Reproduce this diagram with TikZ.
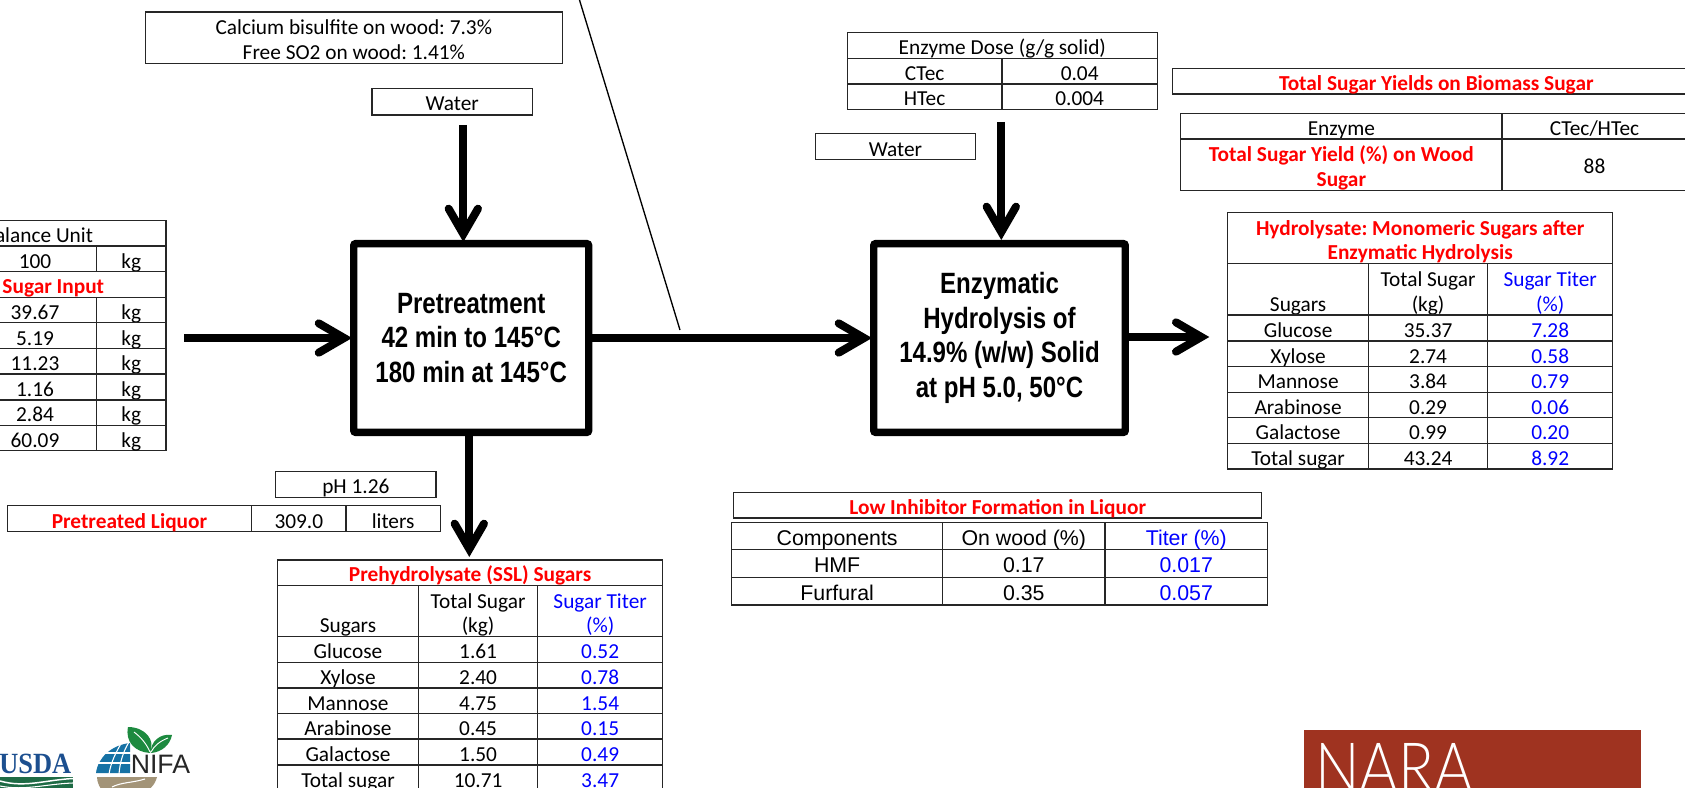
\documentclass[tikz,border=0pt]{standalone}
\usepackage{fontspec}
\setmainfont{Carlito}
\newfontfamily\arialfont{Liberation Sans}
\newfontfamily\narrowfont[FakeStretch=0.82]{Liberation Sans}
\newfontfamily\narafont[FakeStretch=0.85]{Lato Light}
\newfontfamily\usdafont[FakeStretch=0.9]{Liberation Serif}
\usepackage{tikz}
\usetikzlibrary{arrows.meta}
\definecolor{narared}{HTML}{9F3320}
\definecolor{usdablue}{HTML}{1C4F8F}
\definecolor{usdagreen}{HTML}{1E6B45}
\definecolor{nifagreen}{HTML}{1D8A3F}
\definecolor{nifasoil}{HTML}{A39478}
\newcommand{\cellfont}{\fontsize{16}{18.5}\selectfont\frenchspacing}
\newcommand{\ctop}{\rule{0pt}{18.5pt}}
\newcommand{\cbot}{\rule[-4.5pt]{0pt}{4.5pt}}
\tikzset{
  cell/.style = {draw=black!85, line width=1pt, inner xsep=0pt, inner ysep=-3pt, align=center,
    font=\cellfont},
  redcell/.style = {cell, text=red, font=\cellfont\bfseries},
  bluecell/.style = {cell, text=blue},
  arialcell/.style = {cell, font=\cellfont\arialfont},
  arialblue/.style = {arialcell, text=blue},
  stepbox/.style = {draw=black, line width=5.5pt, rounded corners=1.5pt, inner sep=0pt,
    align=center, font=\fontsize{22}{25.8}\selectfont\narrowfont\bfseries},
  flow/.style = {line width=6pt, shorten >=-1.5pt,
    -{Straight Barb[length=19pt,width=22pt,line cap=round,line join=miter]}}
}
% one table cell: [style]{name}{x0}{y0}{x1}{y1}{text}, reference pixels
\newcommand{\tcell}[7][cell]{%
  \pgfmathsetmacro{\cellw}{(#5-#3)*0.75}\pgfmathsetmacro{\cellh}{(#6-#4)*0.75}%
  \node[#1, minimum width=\cellw pt, minimum height=\cellh pt] (#2)
    at ({(#3+#5)/2},{(#4+#6)/2}) {\ctop #7\cbot};}
\begin{document}
\begin{tikzpicture}[x=0.75pt,y=-0.75pt]
\useasboundingbox (0,0) rectangle (1685,788);
\clip (0,0) rectangle (1685,788);

% process boxes
\node [stepbox, minimum width=176.2pt, minimum height=141.6pt] (pre) at (471.2,338)
  {Pretreatment\\42 min to 145\textdegree C\\180 min at 145\textdegree C};
\node [stepbox, minimum width=188.7pt, minimum height=141.6pt] (enz) at (999.5,338)
  {Enzymatic\\Hydrolysis of\\14.9\% (w/w) Solid\\at pH 5.0, 50\textdegree C};

% free ends
\coordinate (feedstart) at (184,338);
\coordinate (watera) at (463.3,125);
\coordinate (waterahit) at (463.3,240);
\coordinate (waterb) at (1001.3,122);
\coordinate (waterbhit) at (1001.3,238);
\coordinate (prestart) at (469.3,436);
\coordinate (pretip) at (469.3,555);
\coordinate (enzstart) at (1129,337);
\coordinate (enztip) at (1207.3,337);
\coordinate (slanttop) at (579.5,0);
\coordinate (slantend) at (680,330);

\draw [flow] (feedstart) -- (pre.west);
\draw [flow] (pre.east) -- (enz.west);
\draw [flow] (watera) -- (waterahit);
\draw [flow] (waterb) -- (waterbhit);
\draw [flow] (prestart) -- (pretip);
\draw [flow] (enzstart) -- (enztip);
\draw [line width=1pt] (slanttop) -- (slantend);

% top notes
\tcell{note}{145.3}{12}{562.4}{63.3}{Calcium bisulfite on wood: 7.3\%\\Free SO2 on wood: 1.41\%}
\tcell{wata}{371.9}{88.3}{532.6}{115}{Water}
\tcell{watb}{815.3}{133.7}{975.7}{159.7}{Water}

% enzyme dose
\tcell{dose}{847.3}{32.3}{1157.3}{58.3}{Enzyme Dose (g/g solid)}
\tcell{ctec}{847.3}{58.3}{1002}{84}{CTec}
\tcell{ctecv}{1002}{58.3}{1157.3}{84}{0.04}
\tcell{htec}{847.3}{84}{1002}{109.3}{HTec}
\tcell{htecv}{1002}{84}{1157.3}{109.3}{0.004}

% yields
\tcell[redcell]{yieldhead}{1172.5}{68.3}{1700}{94}{Total Sugar Yields on Biomass Sugar}
\tcell{enzyme}{1180.7}{113.3}{1502}{139}{Enzyme}
\tcell{enzymev}{1502}{113.3}{1687}{139}{CTec/HTec}
\tcell[redcell]{yield}{1180.7}{139}{1502}{190.3}{Total Sugar Yield (\%) on Wood\\Sugar}
\tcell{yieldv}{1502}{139}{1687}{190.3}{88}

% input table
\tcell{unit}{-78}{220.7}{166}{246}{alance Unit}
\tcell{basis}{-26.7}{246}{96.7}{271.7}{100}
\tcell{basisu}{96.7}{246}{166}{271.7}{kg}
\tcell[redcell]{input}{-59.4}{271.7}{166}{297.3}{Sugar Input}
\foreach \ya/\yb/\val [count=\i] in {297.3/322.7/39.67,322.7/348.7/5.19,348.7/374/11.23,
    374/400/1.16,400/425.3/2.84,425.3/450.7/60.09}{
  \tcell{in\i}{-26.7}{\ya}{96.7}{\yb}{\val}
  \tcell{inu\i}{96.7}{\ya}{166}{\yb}{kg}
}

% liquor
\tcell{ph}{275.7}{471.7}{436}{497.3}{pH 1.26}
\tcell[redcell]{liq}{7.3}{505.7}{251.7}{531.7}{Pretreated Liquor}
\tcell{liqv}{251.7}{505.7}{346}{531.7}{309.0}
\tcell{liqu}{346}{505.7}{440.3}{531.7}{liters}

% prehydrolysate
\tcell[redcell]{sslhead}{277.5}{560}{662.6}{585.3}{Prehydrolysate (SSL) Sugars}
\tcell{sslsug}{277.5}{585.3}{418.5}{636.7}{~\\Sugars}
\tcell{sslkg}{418.5}{585.3}{537.7}{636.7}{Total Sugar\\(kg)}
\tcell[bluecell]{ssltit}{537.7}{585.3}{662.6}{636.7}{Sugar Titer\\(\%)}
\foreach \ya/\yb/\sugar/\kg/\tit [count=\i] in {636.7/662.3/Glucose/1.61/0.52,
    662.3/688/Xylose/2.40/0.78,688/713.7/Mannose/4.75/1.54,713.7/739/Arabinose/0.45/0.15,
    739/765/Galactose/1.50/0.49,765/790.5/Total sugar/10.71/3.47}{
  \tcell{ssla\i}{277.5}{\ya}{418.5}{\yb}{\sugar}
  \tcell{sslb\i}{418.5}{\ya}{537.7}{\yb}{\kg}
  \tcell[bluecell]{sslc\i}{537.7}{\ya}{662.6}{\yb}{\tit}
}

% hydrolysate
\tcell[redcell]{hydhead}{1227.8}{212.7}{1612.6}{263.7}{Hydrolysate: Monomeric Sugars after\\Enzymatic Hydrolysis}
\tcell{hydsug}{1227.8}{263.7}{1368.4}{315}{~\\Sugars}
\tcell{hydkg}{1368.4}{263.7}{1487.8}{315}{Total Sugar\\(kg)}
\tcell[bluecell]{hydtit}{1487.8}{263.7}{1612.6}{315}{Sugar Titer\\(\%)}
\foreach \ya/\yb/\sugar/\kg/\tit [count=\i] in {315/341/Glucose/35.37/7.28,
    341/366.7/Xylose/2.74/0.58,366.7/392.3/Mannose/3.84/0.79,392.3/417.7/Arabinose/0.29/0.06,
    417.7/443.3/Galactose/0.99/0.20,443.3/469/Total sugar/43.24/8.92}{
  \tcell{hyda\i}{1227.8}{\ya}{1368.4}{\yb}{\sugar}
  \tcell{hydb\i}{1368.4}{\ya}{1487.8}{\yb}{\kg}
  \tcell[bluecell]{hydc\i}{1487.8}{\ya}{1612.6}{\yb}{\tit}
}

% inhibitors
\tcell[redcell]{lowhead}{733.6}{492.3}{1261.8}{518}{Low Inhibitor Formation in Liquor}
\tcell[arialcell]{comp}{731.8}{522.3}{942.5}{549.7}{Components}
\tcell[arialcell]{onwood}{942.5}{522.3}{1105}{549.7}{On wood (\%)}
\tcell[arialblue]{titer}{1105}{522.3}{1267.5}{549.7}{Titer (\%)}
\tcell[arialcell]{hmf}{731.8}{549.7}{942.5}{577.3}{HMF}
\tcell[arialcell]{hmfv}{942.5}{549.7}{1105}{577.3}{0.17}
\tcell[arialblue]{hmft}{1105}{549.7}{1267.5}{577.3}{0.017}
\tcell[arialcell]{furf}{731.8}{577.3}{942.5}{605}{Furfural}
\tcell[arialcell]{furfv}{942.5}{577.3}{1105}{605}{0.35}
\tcell[arialblue]{furft}{1105}{577.3}{1267.5}{605}{0.057}

% logos
\fill [narared] (1304,730) rectangle (1641,795);
\node [anchor=base west, inner sep=0pt, text=white, font=\fontsize{52}{52}\selectfont\narafont] (nara)
  at (1315,792) {NARA};
\fill [usdagreen] (0,777) rectangle (73,795);
\draw [white, line width=1.1pt] (0,781) .. controls (25,788) and (45,780) .. (73,778.5);
\draw [white, line width=0.8pt] (0,786) .. controls (25,791) and (45,784) .. (73,783);
\node [anchor=base west, inner sep=0pt, text=usdablue, font=\fontsize{22}{22}\selectfont\usdafont\bfseries] (usda)
  at (-1,773.5) {USDA};
\node [anchor=base west, inner sep=0pt, text=black!85, font=\fontsize{20}{20}\selectfont\arialfont] (nifa)
  at (130.5,773.5) {NIFA};
\fill [usdablue!80!cyan] (96,773) .. controls (98,757) and (112,745) .. (130,743) -- (130,773) -- cycle;
\draw [white, line width=0.8pt] (92,763) -- (132,763) (98,753) -- (132,753);
\draw [white, line width=0.8pt] (109,774) .. controls (111,762) and (116,752) .. (122,742);
\draw [white, line width=0.8pt] (119,774) .. controls (120,762) and (123,752) .. (129,742);
\fill [nifasoil] (97,777) -- (157,777) .. controls (155,785) and (150,790) .. (140,795) -- (105,795) .. controls (100,788) and (97,783) .. cycle;
\draw [white, line width=0.8pt] (112,787) .. controls (122,782) and (132,783) .. (145,779);
\fill [nifagreen] (128,727) .. controls (145,727) and (156,740) .. (150,753) .. controls (135,752) and (125,742) .. cycle;
\fill [nifagreen] (172,735) .. controls (160,733) and (150,742) .. (151,753) .. controls (162,752) and (170,745) .. cycle;
\draw [white, line width=0.7pt] (134,732) .. controls (142,738) and (147,745) .. (150,752);
\draw [white, line width=0.7pt] (168,738) .. controls (160,741) and (154,746) .. (151,752);
\end{tikzpicture}
\end{document}
